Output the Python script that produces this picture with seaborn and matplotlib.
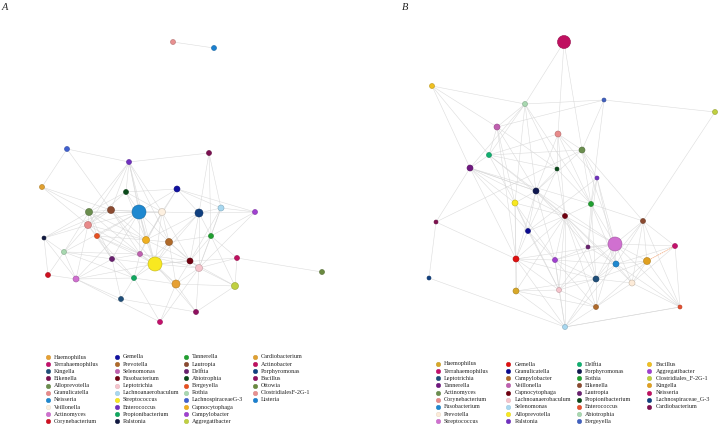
import numpy as np
import pandas as pd
import seaborn as sns
import matplotlib.pyplot as plt
from matplotlib.collections import LineCollection
from matplotlib.colors import to_rgb

sns.set_style('white')
plt.rcParams['font.family'] = ['Liberation Serif', 'DejaVu Serif']

# ---------- panel A ----------
legend_a = ['Haemophilus', 'Terrahaemophilus', 'Kingella', 'Eikenella', 'Alloprevotella',
            'Granulicatella', 'Neisseria', 'Veillonella', 'Actinomyces', 'Corynebacterium',
            'Gemella', 'Prevotella', 'Selenomonas', 'Fusobacterium', 'Leptotrichia',
            'Lachnoanaerobaculum', 'Streptococcus', 'Enterococcus', 'Propionibacterium', 'Ralstonia',
            'Tannerella', 'Lautropia', 'Delftia', 'Abiotrophia', 'Bergeyella',
            'Rothia', 'LachnospiraceaeG-3', 'Capnocytophaga', 'Campylobacter', 'Aggregatibacter',
            'Cardiobacterium', 'Actinobacter', 'Porphyromonas', 'Bacillus', 'Ottowia',
            'ClostridialesF-2G-1', 'Listeria']
colors_a = ['#e6a033', '#c4106c', '#1f4e79', '#7b1050', '#6b8e4e',
            '#e88a8a', '#1e88d0', '#fdf0e0', '#d070d0', '#d01020',
            '#1010a0', '#b06a2a', '#c060b0', '#700010', '#f6c4cc',
            '#a8d8f0', '#f8e820', '#7030c0', '#10a860', '#101840',
            '#20a030', '#8b4a30', '#6a2070', '#0a4a1a', '#e85020',
            '#a8d8b0', '#4060d0', '#f0b020', '#a040d0', '#c0d040',
            '#e0a030', '#c01060', '#104080', '#901060', '#6a8a40',
            '#e89090', '#1a80d0']

genus_a = ['LachnospiraceaeG-3', 'Enterococcus', 'Eikenella', 'Cardiobacterium', 'Abiotrophia',
           'Gemella', 'Alloprevotella', 'Lautropia', 'Neisseria', 'Veillonella',
           'Porphyromonas', 'Lachnoanaerobaculum', 'Campylobacter', 'Granulicatella', 'Ralstonia',
           'Bergeyella', 'Capnocytophaga', 'Prevotella', 'Tannerella', 'Rothia',
           'Delftia', 'Selenomonas', 'Streptococcus', 'Fusobacterium', 'Leptotrichia',
           'Actinobacter', 'Ottowia', 'Corynebacterium', 'Actinomyces', 'Propionibacterium',
           'Haemophilus', 'Aggregatibacter', 'Kingella', 'Bacillus', 'Terrahaemophilus',
           'ClostridialesF-2G-1', 'Listeria']
x_a = [67, 129, 209, 42, 126, 177, 89, 111, 139, 162, 199, 221, 255, 88, 44, 97, 146, 169,
       211, 64, 112, 140, 155, 190, 199, 237, 322, 48, 76, 134, 176, 235, 121, 196, 160, 173, 214]
y_a = [149, 162, 153, 187, 192, 189, 212, 210, 212, 212, 213, 208, 212, 225, 238, 236, 240, 242,
       236, 252, 259, 254, 264, 261, 268, 258, 272, 275, 279, 278, 284, 286, 299, 312, 322, 42, 48]
d_a = [5, 5, 5, 5, 5, 6, 7, 7, 14, 7, 8, 6, 5, 7, 4, 5, 7, 7,
       5, 5, 5, 5, 14, 6, 7, 5, 5, 5, 6, 5, 8, 7, 5, 5, 5, 5, 5]
edges_a = [(0, 1), (0, 3), (0, 7), (1, 2), (1, 6), (1, 8), (1, 9), (1, 13), (1, 16), (1, 22),
           (1, 17), (2, 10), (2, 11), (2, 18), (3, 6), (3, 13), (3, 7), (4, 5), (4, 6), (4, 8),
           (4, 13), (5, 9), (5, 10), (5, 11), (5, 12), (5, 8), (5, 16), (6, 7), (6, 8), (6, 13),
           (6, 14), (6, 19), (6, 15), (6, 20), (7, 8), (7, 13), (7, 16), (7, 21), (7, 14), (8, 9),
           (8, 16), (8, 17), (8, 22), (8, 21), (8, 13), (8, 15), (8, 20), (9, 10), (9, 17), (9, 22),
           (9, 16), (10, 11), (10, 17), (10, 18), (10, 23), (10, 24), (11, 12), (11, 18), (11, 24),
           (12, 18), (12, 24), (13, 14), (13, 19), (13, 15), (13, 20), (13, 28), (14, 19), (14, 27),
           (15, 20), (15, 21), (15, 29), (15, 22), (16, 17), (16, 21), (16, 22), (17, 22), (17, 23),
           (17, 18), (17, 29), (17, 30), (18, 24), (18, 25), (18, 31), (18, 23), (19, 27), (19, 28),
           (19, 20), (19, 29), (20, 21), (20, 28), (20, 29), (20, 32), (21, 22), (21, 29), (21, 23),
           (22, 23), (22, 24), (22, 29), (22, 30), (22, 33), (23, 24), (23, 30), (24, 25), (24, 31),
           (24, 30), (24, 33), (25, 26), (25, 31), (25, 22), (27, 28), (28, 29), (28, 32), (29, 30),
           (29, 34), (29, 32), (30, 31), (30, 34), (30, 33), (31, 33), (32, 33), (35, 36),
           (1, 4), (1, 7), (4, 9), (4, 16), (6, 9), (6, 16), (6, 21), (7, 9), (7, 22), (8, 19),
           (8, 28), (9, 23), (9, 21), (10, 16), (10, 22), (13, 16), (13, 21), (14, 28), (15, 16),
           (16, 23), (17, 24), (19, 21), (20, 22), (21, 24), (22, 28), (23, 31), (24, 34), (28, 34),
           (21, 30), (10, 12), (11, 23)]

# ---------- panel B ----------
legend_b = ['Haemophilus', 'Terrahaemophilus', 'Leptotrichia', 'Tannerella', 'Actinomyces',
            'Corynebacterium', 'Fusobacterium', 'Prevotella', 'Streptococcus',
            'Gemella', 'Granulicatella', 'Campylobacter', 'Veillonella', 'Capnocytophaga',
            'Lachnoanaerobaculum', 'Selenomonas', 'Alloprevotella', 'Ralstonia',
            'Delftia', 'Porphyromonas', 'Rothia', 'Eikenella', 'Lautropia',
            'Propionibacterium', 'Enterococcus', 'Abiotrophia', 'Bergeyella',
            'Bacillus', 'Aggregatibacter', 'Clostridiales_F-2G-1', 'Kingella', 'Neisseria',
            'Lachnospiraceae_G-3', 'Cardiobacterium']
colors_b = ['#d8a828', '#c4106c', '#1f4e79', '#701880', '#6b8e4e',
            '#e88a8a', '#1e88d0', '#fdebd8', '#d070d0',
            '#e01010', '#0a0a90', '#b06a2a', '#c060b0', '#700010',
            '#f6c4cc', '#a8d8f0', '#f8e820', '#7030c0',
            '#10b070', '#101850', '#20a030', '#8b4a30', '#6a2070',
            '#0a4a1a', '#e85030', '#a8d8b0', '#4060c0',
            '#f0c020', '#a040d0', '#c0d040', '#e0a020', '#c01060',
            '#104080', '#801050']

genus_b = ['Neisseria', 'Bacillus', 'Abiotrophia', 'Bergeyella', 'Clostridiales_F-2G-1',
           'Veillonella', 'Corynebacterium', 'Actinomyces', 'Delftia', 'Tannerella',
           'Propionibacterium', 'Ralstonia', 'Porphyromonas', 'Alloprevotella', 'Rothia',
           'Capnocytophaga', 'Cardiobacterium', 'Granulicatella', 'Eikenella', 'Streptococcus',
           'Lautropia', 'Terrahaemophilus', 'Gemella', 'Aggregatibacter', 'Fusobacterium',
           'Kingella', 'Lachnospiraceae_G-3', 'Leptotrichia', 'Prevotella', 'Haemophilus',
           'Lachnoanaerobaculum', 'Campylobacter', 'Enterococcus', 'Selenomonas']
x_b = [564, 432, 525, 604, 715, 497, 558, 582, 489, 470, 557, 597, 536, 515, 591, 565, 436,
       528, 643, 615, 588, 675, 516, 555, 616, 647, 429, 596, 632, 516, 559, 596, 680, 565]
y_b = [42, 86, 104, 100, 112, 127, 134, 150, 155, 168, 169, 178, 191, 203, 204, 216, 222,
       231, 221, 244, 247, 246, 259, 260, 264, 261, 278, 279, 283, 291, 290, 307, 307, 327]
d_b = [13, 5, 5, 4, 5, 6, 6, 6, 5, 6, 4, 4, 6, 6, 5, 5, 4,
       5, 5, 14, 4, 5, 6, 5, 6, 7, 4, 6, 6, 6, 5, 5, 4, 5]
edges_b = [(0, 2), (0, 6), (0, 7), (1, 2), (1, 5), (1, 8), (1, 9), (2, 3), (2, 5), (2, 8),
           (2, 10), (2, 12), (2, 13), (2, 14), (3, 4), (3, 5), (3, 7), (3, 14), (4, 18), (5, 8),
           (5, 10), (5, 12), (5, 13), (5, 22), (6, 10), (6, 12), (6, 14), (6, 15), (6, 8), (6, 7),
           (7, 11), (7, 14), (7, 19), (7, 18), (7, 12), (7, 8), (7, 16), (8, 9), (8, 10), (8, 12),
           (8, 15), (9, 12), (9, 13), (9, 22), (9, 16), (9, 15), (9, 14), (10, 12), (10, 14),
           (10, 15), (11, 14), (11, 19), (11, 17), (12, 13), (12, 15), (12, 17), (12, 23), (12, 20),
           (13, 17), (13, 22), (13, 15), (13, 30), (14, 19), (14, 15), (14, 18), (14, 20), (15, 19),
           (15, 20), (15, 23), (15, 24), (15, 27), (15, 30), (16, 26), (16, 22), (17, 22), (17, 23),
           (17, 30), (18, 19), (18, 21), (18, 25), (18, 24), (18, 28), (18, 32), (18, 27), (19, 20),
           (19, 21), (19, 24), (19, 25), (19, 27), (19, 28), (19, 23), (20, 23), (20, 24), (20, 27),
           (21, 32), (21, 28), (22, 23), (22, 29), (22, 30), (22, 33), (23, 24), (23, 27),
           (23, 30), (24, 27), (24, 28), (24, 25), (25, 28), (25, 27), (26, 33), (27, 28), (27, 30),
           (27, 31), (27, 33), (28, 32), (28, 31), (29, 30), (29, 33), (30, 31), (30, 33), (31, 33),
           (32, 33),
           (15, 22), (15, 29), (15, 31), (15, 33), (15, 17), (15, 28), (12, 22), (12, 9), (33, 23),
           (33, 24), (33, 32), (32, 25), (32, 24), (32, 19), (19, 30), (19, 31), (19, 22), (19, 12),
           (27, 29), (27, 22), (13, 23), (13, 29), (14, 24), (14, 27), (11, 20), (11, 24), (10, 17),
           (6, 11), (2, 9), (8, 13), (9, 17), (20, 30), (23, 31), (25, 31), (29, 31), (21, 24)]
# one coloured edge (Kingella - Terrahaemophilus)
hl_edge_b = (25, 21)


def darker(c, f=0.78):
    r, g, b = to_rgb(c)
    return (r * f, g * f, b * f)


fig = plt.figure(figsize=(7.19, 4.26), dpi=100)
ax = fig.add_axes([0, 0, 1, 1])
ax.set_xlim(0, 719)
ax.set_ylim(426, 0)
ax.axis('off')


def draw_net(genus, xs, ys, ds, edges, leg_names, leg_colors, x0, y0, col_dx, rows):
    pal = dict(zip(leg_names, leg_colors))
    segs = [[(xs[i], ys[i]), (xs[j], ys[j])] for i, j in edges]
    ax.add_collection(LineCollection(segs, colors='#d6d6d6', linewidths=0.4, alpha=0.85, zorder=1))
    df = pd.DataFrame({'x': xs, 'y': ys, 'genus': genus, 'd': ds})
    sizes = {d: (d * 0.72) ** 2 for d in sorted(set(ds))}
    sns.scatterplot(data=df, x='x', y='y', hue='genus', palette=pal, size='d', sizes=sizes,
                    edgecolor=[darker(pal[g]) for g in genus], linewidth=0.4,
                    legend=False, ax=ax, zorder=3)
    # legend (column-wise)
    for k, (name, c) in enumerate(zip(leg_names, leg_colors)):
        cx = x0 + (k // rows) * col_dx
        cy = y0 + (k % rows) * 7.15
        ax.scatter(cx, cy, s=(4.5 * 0.72) ** 2, color=c, edgecolor=darker(c, 0.9),
                   linewidth=0.3, zorder=3)
        ax.text(cx + 6.5, cy, name, fontsize=4.4, va='center', ha='left', color='#222222')


draw_net(genus_a, x_a, y_a, d_a, edges_a, legend_a, colors_a, 47.5, 357, 69, 10)
draw_net(genus_b, x_b, y_b, d_b, edges_b, legend_b, colors_b, 437.5, 364, 70.5, 9)

i, j = hl_edge_b
ax.plot([x_b[i], x_b[j]], [y_b[i], y_b[j]], color='#f0a070', lw=0.5, ls=(0, (2, 1)), zorder=2)

ax.text(5, 8, 'A', fontsize=7.5, style='italic', va='center', ha='center')
ax.text(405, 8, 'B', fontsize=7.5, style='italic', va='center', ha='center')
ax.set_xlabel('')
ax.set_ylabel('')

fig.savefig('out.png', dpi=100)
